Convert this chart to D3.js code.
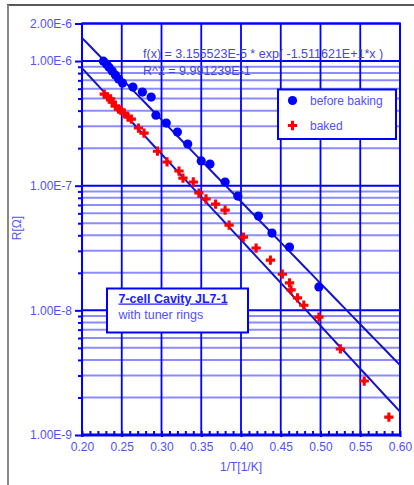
<!DOCTYPE html>
<html>
<head>
<meta charset="utf-8">
<script src="https://cdn.jsdelivr.net/npm/d3@7"></script>
<style>
    body { margin: 0; background: #fff; }
    text { font-family: "Liberation Sans", Arial, sans-serif; }
</style>
</head>
<body>
<div id="holder"></div>
<script>
// before baking: 1/T [1/K] and R [Ohm]
const beforeX = [0.227, 0.231, 0.234, 0.238, 0.242, 0.246, 0.251, 0.264, 0.276, 0.287,
    0.293, 0.306, 0.320, 0.333, 0.350, 0.361, 0.380, 0.396, 0.422, 0.439, 0.461, 0.498];
const beforeR = [9.97e-7, 9.44e-7, 8.93e-7, 8.30e-7, 7.71e-7, 7.16e-7, 6.65e-7, 6.18e-7, 5.64e-7, 5.14e-7,
    3.68e-7, 3.18e-7, 2.69e-7, 2.16e-7, 1.58e-7, 1.49e-7, 1.07e-7, 8.26e-8, 5.70e-8, 4.17e-8, 3.22e-8, 1.54e-8];

// baked
const bakedX = [0.228, 0.232, 0.236, 0.238, 0.242, 0.246, 0.249, 0.253, 0.258, 0.262, 0.271, 0.278,
    0.295, 0.307, 0.322, 0.327, 0.340, 0.347, 0.356, 0.368, 0.380, 0.385, 0.403, 0.419, 0.437,
    0.452, 0.461, 0.463, 0.471, 0.479, 0.498, 0.525, 0.555, 0.586];
const bakedR = [5.43e-7, 5.15e-7, 4.97e-7, 4.68e-7, 4.35e-7, 4.11e-7, 4.04e-7, 3.82e-7, 3.55e-7, 3.42e-7, 2.90e-7, 2.64e-7,
    1.89e-7, 1.55e-7, 1.31e-7, 1.15e-7, 1.07e-7, 8.73e-8, 7.82e-8, 7.11e-8, 6.37e-8, 4.83e-8, 3.87e-8, 3.16e-8, 2.53e-8,
    1.95e-8, 1.66e-8, 1.46e-8, 1.26e-8, 1.10e-8, 8.83e-9, 4.90e-9, 2.71e-9, 1.39e-9];

// exponential fits  R = a * exp(b * x)
const fitBefore = [3.155523e-5, -15.11621];
const fitBaked = [2.09e-5, -15.86];

const xTicks = [0.20, 0.25, 0.30, 0.35, 0.40, 0.45, 0.50, 0.55, 0.60];
const xTickLabels = ["0.20", "0.25", "0.30", "0.35", "0.40", "0.45", "0.50", "0.55", "0.60"];
const yTicks = [2e-6, 1e-6, 1e-7, 1e-8, 1e-9];
const yTickLabels = ["2.00E-6", "1.00E-6", "1.00E-7", "1.00E-8", "1.00E-9"];

const seriesNames = ["before baking", "baked"];
const fitLabel = ["f(x) = 3.155523E-5 * exp( -1.511621E+1*x )", "R^2 = 9.991239E-1"];
const boxLabel = ["7-cell Cavity JL7-1", "with tuner rings"];
const xTitle = "1/T[1/K]", yTitle = "R[\u03A9]";

const w = 414, h = 485;
const plotLeft = 82, plotRight = 400, plotTop = 23.5, plotBottom = 435;
const blue = "#0000ff", lightBlue = "#8c8cff", textBlue = "#5050ff", red = "#ff0000";

const svg = d3.select('#holder')
    .append('svg')
    .attr('width', w)
    .attr('height', h);

const xScale = d3.scaleLinear().domain([0.2, 0.6]).range([plotLeft, plotRight]);
const yScale = d3.scaleLog().domain([1e-9, 2e-6]).range([plotBottom, plotTop]);

// minor values 2..9 in each full decade
const yMinor = [];
[-9, -8, -7].forEach(k => d3.range(2, 10).forEach(m => yMinor.push(m * Math.pow(10, k))));
const xMinor = d3.range(20, 61).map(v => v / 100);

// outer frame
svg.append('line').attr('x1', 7).attr('x2', w).attr('y1', 5).attr('y2', 5)
    .attr('stroke', '#222').attr('stroke-width', 1.5);
svg.append('line').attr('x1', 8).attr('x2', 8).attr('y1', 5).attr('y2', h)
    .attr('stroke', '#888').attr('stroke-width', 2);

// grid
svg.append('g').selectAll('line')
    .data(yMinor)
    .enter()
    .append('line')
    .attr('x1', plotLeft).attr('x2', plotRight)
    .attr('y1', d => yScale(d)).attr('y2', d => yScale(d))
    .attr('stroke', lightBlue).attr('stroke-width', 2);

svg.append('g').selectAll('line')
    .data(yTicks)
    .enter()
    .append('line')
    .attr('x1', plotLeft).attr('x2', plotRight)
    .attr('y1', d => yScale(d)).attr('y2', d => yScale(d))
    .attr('stroke', blue).attr('stroke-width', 2);

svg.append('g').selectAll('line')
    .data(xTicks)
    .enter()
    .append('line')
    .attr('x1', d => xScale(d)).attr('x2', d => xScale(d))
    .attr('y1', plotTop).attr('y2', plotBottom)
    .attr('stroke', blue).attr('stroke-width', 1.8);

// axes
const yAxisMinor = d3.axisLeft(yScale).tickValues(yMinor).tickSize(4).tickFormat('').tickSizeOuter(0);
const yAxis = d3.axisLeft(yScale).tickValues(yTicks).tickSize(7).tickSizeOuter(0)
    .tickFormat((d, i) => yTickLabels[i]);
const xAxisMinor = d3.axisTop(xScale).tickValues(xMinor).tickSize(4).tickFormat('').tickSizeOuter(0);
const xAxis = d3.axisBottom(xScale).tickValues(xTicks).tickSize(2).tickSizeOuter(0)
    .tickFormat((d, i) => xTickLabels[i]);

function styleAxis(g) {
    g.select('.domain').remove();
    g.selectAll('line').attr('stroke', blue).attr('stroke-width', 2);
    g.selectAll('text').attr('fill', textBlue).style('font-size', '12px')
        .style('font-family', '"Liberation Sans", Arial, sans-serif');
}

svg.append('g').attr('transform', `translate(${plotLeft},0)`).call(yAxisMinor).call(styleAxis);
svg.append('g').attr('id', 'y-axis').attr('transform', `translate(${plotLeft},0)`).call(yAxis).call(styleAxis)
    .selectAll('text').attr('x', -10);
svg.append('g').attr('transform', `translate(0,${plotBottom})`).call(xAxisMinor).call(styleAxis);
svg.append('g').attr('id', 'x-axis').attr('transform', `translate(0,${plotBottom})`).call(xAxis).call(styleAxis)
    .selectAll('text').attr('y', 7);

// plot frame
svg.append('rect')
    .attr('x', plotLeft).attr('y', plotTop)
    .attr('width', plotRight - plotLeft).attr('height', plotBottom - plotTop)
    .attr('fill', 'none').attr('stroke', blue).attr('stroke-width', 2);
svg.append('line').attr('x1', plotLeft - 1).attr('x2', plotRight + 1).attr('y1', plotBottom).attr('y2', plotBottom)
    .attr('stroke', blue).attr('stroke-width', 3);

// axis titles
svg.append('text')
    .text(xTitle)
    .attr('x', 241).attr('y', 471)
    .attr('text-anchor', 'middle')
    .attr('fill', textBlue).style('font-size', '12px');
svg.append('text')
    .text(yTitle)
    .attr('transform', 'rotate(-90)')
    .attr('x', -228).attr('y', 21)
    .attr('text-anchor', 'middle')
    .attr('fill', textBlue).style('font-size', '12px');

// fit text
svg.append('g').selectAll('text')
    .data(fitLabel)
    .enter()
    .append('text')
    .text(d => d)
    .attr('x', 143)
    .attr('y', (d, i) => 58 + i * 17)
    .attr('fill', '#4646dc').style('font-size', '12.5px');

// fit lines
const fitLine = f => d3.line()
    .x(x => xScale(x))
    .y(x => yScale(f[0] * Math.exp(f[1] * x)));
const xs = d3.range(20, 61).map(v => v / 100);
[fitBefore, fitBaked].forEach(f => {
    svg.append('path')
        .attr('d', fitLine(f)(xs))
        .attr('fill', 'none')
        .attr('stroke', '#1414c8')
        .attr('stroke-width', 2);
});

// points
svg.append('g').selectAll('circle')
    .data(beforeX)
    .enter()
    .append('circle')
    .attr('cx', d => xScale(d))
    .attr('cy', (d, i) => yScale(beforeR[i]))
    .attr('r', 4.6)
    .attr('fill', blue);

const cross = d3.symbol().type(d3.symbolCross).size(48);
svg.append('g').selectAll('path')
    .data(bakedX)
    .enter()
    .append('path')
    .attr('d', cross)
    .attr('transform', (d, i) => `translate(${xScale(d)},${yScale(bakedR[i])})`)
    .attr('fill', red);

// legend
svg.append('g')
    .attr('transform', 'translate(278,89.5)')
    .call(g => {
        g.append('rect')
            .attr('width', 118).attr('height', 49.5)
            .attr('fill', '#fff').attr('stroke', blue).attr('stroke-width', 2);
        g.append('circle').attr('cx', 14.5).attr('cy', 11).attr('r', 4.6).attr('fill', blue);
        g.append('path').attr('d', cross).attr('transform', 'translate(14.5,36)').attr('fill', red);
        g.selectAll('text')
            .data(seriesNames)
            .enter()
            .append('text')
            .text(d => d)
            .attr('x', 32)
            .attr('y', (d, i) => 15 + i * 25)
            .attr('fill', textBlue).style('font-size', '12px');
    });

// annotation box
svg.append('g')
    .attr('transform', 'translate(107,288.5)')
    .call(g => {
        g.append('rect')
            .attr('width', 141).attr('height', 44)
            .attr('fill', '#fff').attr('stroke', blue).attr('stroke-width', 2);
        g.append('text')
            .text(boxLabel[0])
            .attr('x', 11.5).attr('y', 14)
            .attr('fill', '#2020ff')
            .style('font-size', '12.5px').style('font-weight', 'bold')
            .style('text-decoration', 'underline');
        g.append('text')
            .text(boxLabel[1])
            .attr('x', 11.5).attr('y', 30)
            .attr('fill', textBlue).style('font-size', '12.5px');
    });
</script>
</body>
</html>
